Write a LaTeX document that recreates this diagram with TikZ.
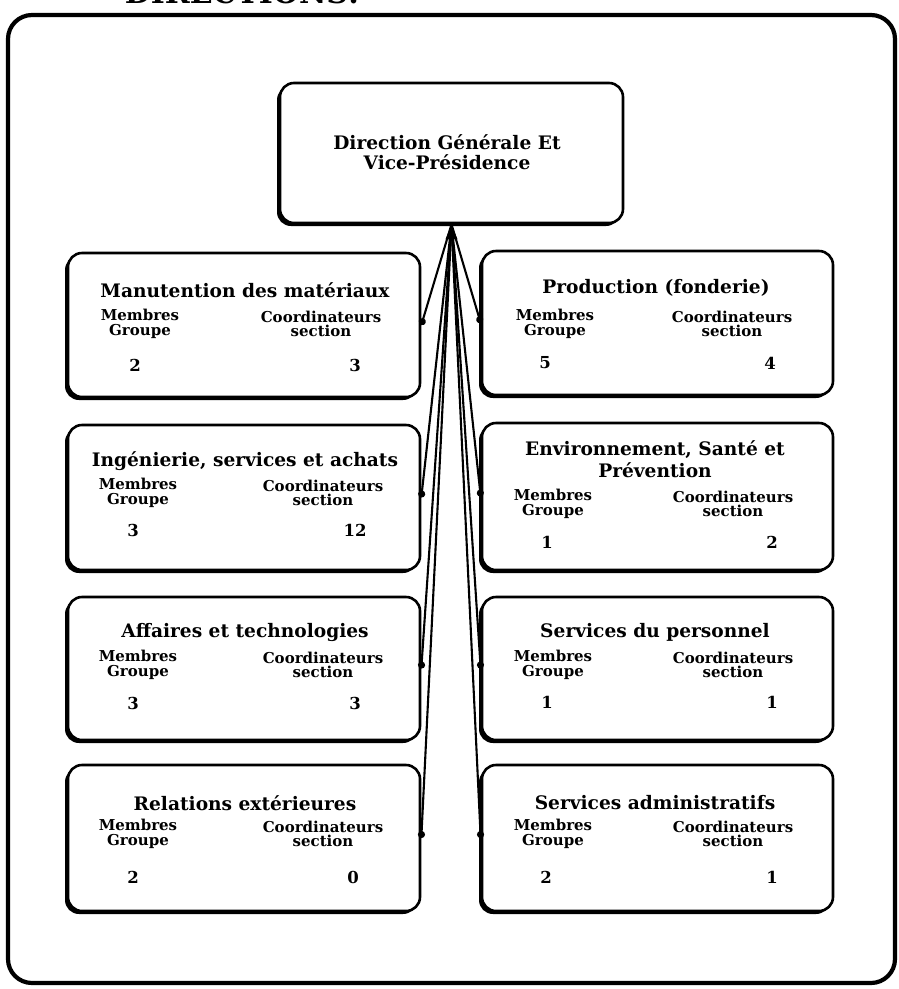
\documentclass[tikz,border=0pt]{standalone}
\usepackage{fontspec}
\setmainfont{DejaVu Serif}
\usetikzlibrary{shadows,arrows.meta}

\begin{document}
\begin{tikzpicture}[x=1pt,y=-1pt,
  frame/.style={draw,line width=4.2pt,rounded corners=24pt},
  orgbox/.style={draw,line width=2.6pt,rounded corners=14pt,fill=white,
    drop shadow={shadow xshift=-3pt,shadow yshift=-3pt,opacity=1,fill=black}},
  ttl/.style={font=\bfseries\fontsize{18.6}{22}\selectfont,align=center,inner sep=0pt},
  lbl/.style={font=\bfseries\fontsize{15}{14.5}\selectfont,align=center,inner sep=0pt},
  num/.style={font=\bfseries\fontsize{16.5}{18}\selectfont,inner sep=0pt},
  conn/.style={line width=2.1pt,-{Circle[length=7pt]}}]

\useasboundingbox (0,0) rectangle (899,989);

% heading, mostly above the page edge
\node[font=\bfseries\fontsize{30}{30}\selectfont,anchor=base] (hdr) at (242,3) {DIRECTIONS:};

% outer frame
\draw[frame] (8,15) rectangle (895,983);

% general management
\node[orgbox,minimum width=343pt,minimum height=140pt] (top) at (451.5,153) {};
\node[ttl,font=\bfseries\fontsize{18.6}{20}\selectfont] (topT) at (447,152) {Direction Générale Et\\Vice-Présidence};

% left column
\node[orgbox,minimum width=352pt,minimum height=144pt] (L1) at (244,325) {};
\node[ttl] (L1t) at (245,290) {Manutention des matériaux};
\node[lbl] (L1m) at (140,324) {Membres\\Groupe};
\node[lbl] (L1c) at (321,324) {Coordinateurs\\section};
\node[num] (L1a) at (135,365) {2};
\node[num] (L1b) at (355,365) {3};

\node[orgbox,minimum width=352pt,minimum height=145pt] (L2) at (244,497.5) {};
\node[ttl] (L2t) at (245,461) {Ingénierie, services et achats};
\node[lbl] (L2m) at (138,493) {Membres\\Groupe};
\node[lbl] (L2c) at (323,493) {Coordinateurs\\section};
\node[num] (L2a) at (133,530) {3};
\node[num] (L2b) at (355,530) {12};

\node[orgbox,minimum width=352pt,minimum height=143pt] (L3) at (244,668.5) {};
\node[ttl] (L3t) at (245,632) {Affaires et technologies};
\node[lbl] (L3m) at (138,665) {Membres\\Groupe};
\node[lbl] (L3c) at (323,665) {Coordinateurs\\section};
\node[num] (L3a) at (133,703) {3};
\node[num] (L3b) at (355,703) {3};

\node[orgbox,minimum width=352pt,minimum height=146pt] (L4) at (244,838) {};
\node[ttl] (L4t) at (245,803) {Relations extérieures};
\node[lbl] (L4m) at (138,834) {Membres\\Groupe};
\node[lbl] (L4c) at (323,834) {Coordinateurs\\section};
\node[num] (L4a) at (133,877) {2};
\node[num] (L4b) at (353,877) {0};

% right column
\node[orgbox,minimum width=351pt,minimum height=144pt] (R1) at (657.5,323) {};
\node[ttl] (R1t) at (656,288) {Production (fonderie)};
\node[lbl] (R1m) at (555,324) {Membres\\Groupe};
\node[lbl] (R1c) at (732,324) {Coordinateurs\\section};
\node[num] (R1a) at (545,363) {5};
\node[num] (R1b) at (770,363) {4};

\node[orgbox,minimum width=351pt,minimum height=147pt] (R2) at (657.5,496.5) {};
\node[ttl] (R2t) at (655,459) {Environnement, Santé et\\Prévention};
\node[lbl] (R2m) at (553,504) {Membres\\Groupe};
\node[lbl] (R2c) at (733,504) {Coordinateurs\\section};
\node[num] (R2a) at (547,542) {1};
\node[num] (R2b) at (772,542) {2};

\node[orgbox,minimum width=351pt,minimum height=143pt] (R3) at (657.5,668.5) {};
\node[ttl] (R3t) at (655,632) {Services du personnel};
\node[lbl] (R3m) at (553,665) {Membres\\Groupe};
\node[lbl] (R3c) at (733,665) {Coordinateurs\\section};
\node[num] (R3a) at (547,702) {1};
\node[num] (R3b) at (772,702) {1};

\node[orgbox,minimum width=351pt,minimum height=146pt] (R4) at (657.5,838) {};
\node[ttl] (R4t) at (655,803) {Services administratifs};
\node[lbl] (R4m) at (553,834) {Membres\\Groupe};
\node[lbl] (R4c) at (733,834) {Coordinateurs\\section};
\node[num] (R4a) at (546,877) {2};
\node[num] (R4b) at (772,877) {1};

% connectors fanning out from the general management box
\foreach \d in {L1,L2,L3,L4} \draw[conn] (top.south) -- (\d.east);
\foreach \d in {R1,R2,R3,R4} \draw[conn] (top.south) -- (\d.west);
\fill (top.south) -- ++(-6,15) -- ++(12,0) -- cycle;

\end{tikzpicture}
\end{document}
